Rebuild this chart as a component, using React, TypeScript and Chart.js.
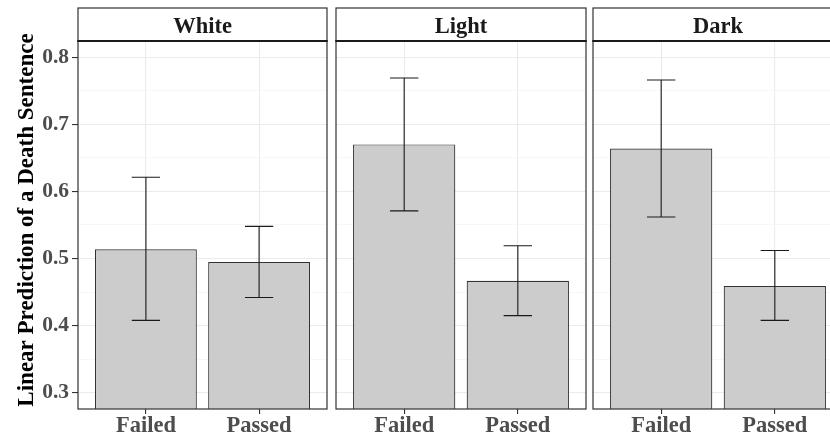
import React, { useEffect, useRef } from 'react';
import { Chart, registerables } from 'chart.js';

Chart.register(...registerables);

// ---- data ----
const groups = ['White', 'Light', 'Dark'];
const categories = ['Failed', 'Passed'];
const categoryPositions = [1, 2];
const whiteMeans = [0.514, 0.495];
const lightMeans = [0.67, 0.467];
const darkMeans = [0.664, 0.459];
const whiteLower = [0.408, 0.442];
const whiteUpper = [0.621, 0.548];
const lightLower = [0.571, 0.415];
const lightUpper = [0.769, 0.519];
const darkLower = [0.562, 0.408];
const darkUpper = [0.766, 0.512];
const yMajorTicks = [0.3, 0.4, 0.5, 0.6, 0.7, 0.8];
const yMajorLabels = ['0.3', '0.4', '0.5', '0.6', '0.7', '0.8'];
const yMinorTicks = [0.35, 0.45, 0.55, 0.65, 0.75];
const yTitle = 'Linear Prediction of a Death Sentence';

const panelMeans = [whiteMeans, lightMeans, darkMeans];
const panelLower = [whiteLower, lightLower, darkLower];
const panelUpper = [whiteUpper, lightUpper, darkUpper];

// ---- layout / style ----
const Y_MIN = 0.276;
const Y_MAX = 0.824;
const X_MIN = 0.4;
const X_MAX = 2.6;
const FONT = "'Liberation Serif', 'Times New Roman', serif";
const panelLayout = [
  { left: 0, width: 332, yWidth: 78, padRight: 5 },
  { left: 332, width: 259, yWidth: 4, padRight: 5 },
  { left: 591, width: 257, yWidth: 2, padRight: 5 },
];
const STRIP_TOP = 8;
const PLOT_TOP = 41;
const CANVAS_H = 437;
const PLOT_BOTTOM = 409;

function Panel({ idx }: { idx: number }) {
  const ref = useRef<HTMLCanvasElement | null>(null);
  useEffect(() => {
    const canvas = ref.current;
    if (!canvas) return;
    const lay = panelLayout[idx];
    const means = panelMeans[idx];
    const lower = panelLower[idx];
    const upper = panelUpper[idx];
    const first = idx === 0;

    const decor = {
      id: 'decor' + idx,
      afterDatasetsDraw(chart: any) {
        const ctx = chart.ctx;
        const xs = chart.scales.x;
        const ys = chart.scales.y;
        const a = chart.chartArea;
        ctx.save();
        // error bars
        ctx.strokeStyle = '#1a1a1a';
        ctx.lineWidth = 1.1;
        for (let i = 0; i < categoryPositions.length; i++) {
          const cx = xs.getPixelForValue(categoryPositions[i]);
          const x0 = xs.getPixelForValue(categoryPositions[i] - 0.125);
          const x1 = xs.getPixelForValue(categoryPositions[i] + 0.125);
          const yl = ys.getPixelForValue(lower[i]);
          const yu = ys.getPixelForValue(upper[i]);
          ctx.beginPath();
          ctx.moveTo(cx, yl);
          ctx.lineTo(cx, yu);
          ctx.moveTo(x0, yl);
          ctx.lineTo(x1, yl);
          ctx.moveTo(x0, yu);
          ctx.lineTo(x1, yu);
          ctx.stroke();
        }
        // panel border
        ctx.strokeStyle = '#333333';
        ctx.lineWidth = 1.2;
        ctx.strokeRect(a.left, a.top, a.right - a.left, a.bottom - a.top);
        // strip
        ctx.fillStyle = '#ffffff';
        ctx.fillRect(a.left, STRIP_TOP, a.right - a.left, a.top - STRIP_TOP);
        ctx.strokeRect(a.left, STRIP_TOP, a.right - a.left, a.top - STRIP_TOP);
        ctx.lineWidth = 2.2;
        ctx.strokeStyle = '#1a1a1a';
        ctx.beginPath();
        ctx.moveTo(a.left - 0.6, a.top);
        ctx.lineTo(a.right + 0.6, a.top);
        ctx.stroke();
        ctx.fillStyle = '#1a1a1a';
        ctx.font = `bold 22.5px ${FONT}`;
        ctx.textAlign = 'center';
        ctx.textBaseline = 'alphabetic';
        ctx.fillText(groups[idx], (a.left + a.right) / 2, 32.5);
        // y-axis title
        if (first) {
          ctx.save();
          ctx.translate(33, 220);
          ctx.rotate(-Math.PI / 2);
          ctx.fillStyle = '#000000';
          ctx.font = `bold 23px ${FONT}`;
          ctx.textAlign = 'center';
          ctx.textBaseline = 'alphabetic';
          ctx.fillText(yTitle, 0, 0);
          ctx.restore();
        }
        ctx.restore();
      },
    };

    const chart = new Chart(canvas, {
      type: 'bar',
      data: {
        datasets: [
          {
            data: categoryPositions.map((x, i) => ({ x, y: means[i] })),
            backgroundColor: '#cccccc',
            borderColor: '#333333',
            borderWidth: 1.2,
            borderSkipped: 'start',
            barPercentage: 0.9,
            categoryPercentage: 1,
          },
        ],
      },
      options: {
        responsive: false,
        animation: false,
        devicePixelRatio: 1,
        layout: { padding: { top: PLOT_TOP, right: lay.padRight, left: 0, bottom: 0 } },
        plugins: { legend: { display: false }, tooltip: { enabled: false } },
        scales: {
          x: {
            type: 'linear',
            min: X_MIN,
            max: X_MAX,
            offset: false,
            border: { display: false },
            afterBuildTicks: (s: any) => {
              s.ticks = categoryPositions.map((v) => ({ value: v }));
            },
            afterFit: (s: any) => {
              s.height = CANVAS_H - PLOT_BOTTOM;
            },
            grid: {
              offset: false,
              color: '#ebebeb',
              lineWidth: 1.1,
              tickLength: 5,
              tickColor: '#333333',
              tickWidth: 1.1,
            },
            ticks: {
              autoSkip: false,
              maxRotation: 0,
              padding: 1,
              color: '#4d4d4d',
              font: { family: FONT, size: 22.5, weight: 'bold', lineHeight: 1 },
              callback: (v: any) => {
                const i = categoryPositions.indexOf(Number(v));
                return i >= 0 ? categories[i] : '';
              },
            },
          },
          y: {
            type: 'linear',
            min: Y_MIN,
            max: Y_MAX,
            border: { display: false },
            afterBuildTicks: (s: any) => {
              s.ticks = [...yMajorTicks, ...yMinorTicks]
                .sort((a, b) => a - b)
                .map((v) => ({ value: v }));
            },
            afterFit: (s: any) => {
              s.width = lay.yWidth;
            },
            grid: {
              color: (c: any) =>
                yMajorTicks.includes(c.tick?.value) ? '#ebebeb' : '#f4f4f4',
              lineWidth: (c: any) => (yMajorTicks.includes(c.tick?.value) ? 1.1 : 0.7),
              drawTicks: first,
              tickLength: 6,
              tickColor: (c: any) =>
                yMajorTicks.includes(c.tick?.value) ? '#333333' : 'rgba(0,0,0,0)',
              tickWidth: 1.1,
            },
            ticks: {
              display: first,
              autoSkip: false,
              padding: 3,
              color: '#4d4d4d',
              font: { family: FONT, size: 21.5, weight: 'bold' },
              callback: (v: any) => {
                const i = yMajorTicks.indexOf(Number(v));
                return i >= 0 ? yMajorLabels[i] : '';
              },
            },
            title: { display: false },
          },
        },
      },
      plugins: [decor],
    } as any);
    return () => chart.destroy();
  }, [idx]);

  const lay = panelLayout[idx];
  return (
    <canvas
      ref={ref}
      width={lay.width}
      height={CANVAS_H}
      style={{
        position: 'absolute',
        left: lay.left,
        top: 0,
        width: lay.width,
        height: CANVAS_H,
        display: 'block',
      }}
    />
  );
}

export default function App() {
  return (
    <div
      style={{
        position: 'fixed',
        left: 0,
        top: 0,
        width: 830,
        height: 437,
        overflow: 'hidden',
        background: '#ffffff',
      }}
    >
      {groups.map((g, i) => (
        <Panel key={g} idx={i} />
      ))}
    </div>
  );
}
